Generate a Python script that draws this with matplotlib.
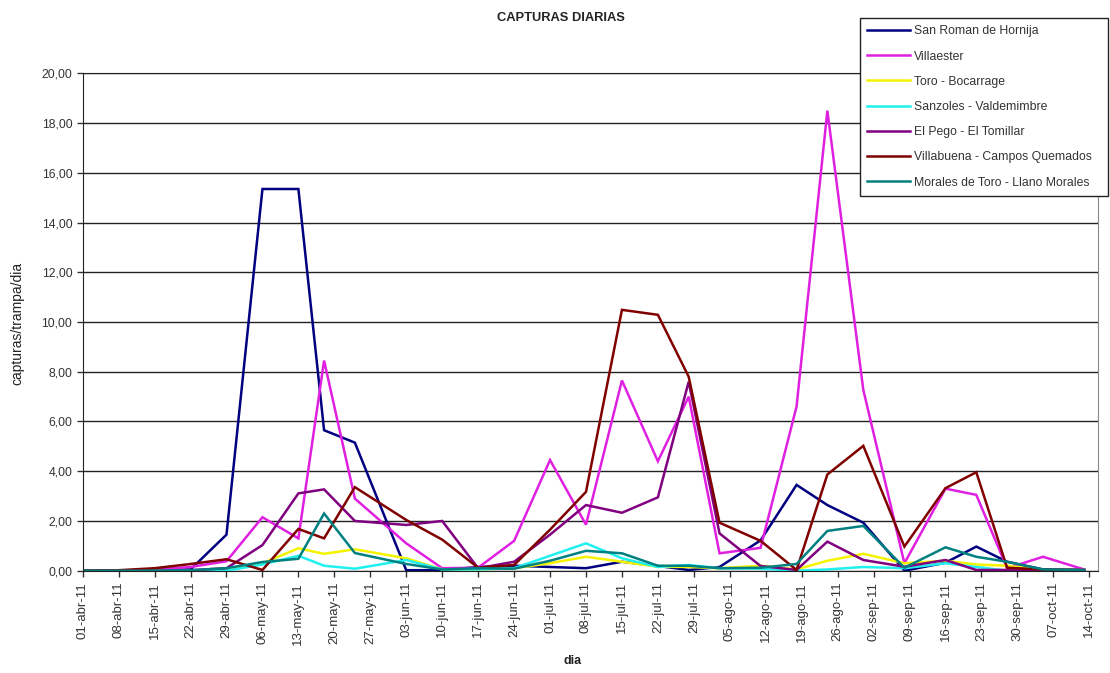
import matplotlib
matplotlib.use("Agg")
import matplotlib.pyplot as plt
import matplotlib.dates as mdates
from matplotlib.legend_handler import HandlerLine2D
import pandas as pd

# sampling dates (read off the picture, not all exactly weekly)
sample_dates = ["2011-04-01", "2011-04-08", "2011-04-15", "2011-04-22", "2011-04-29",
                "2011-05-06", "2011-05-13", "2011-05-18", "2011-05-24", "2011-06-03",
                "2011-06-10", "2011-06-17", "2011-06-24", "2011-07-01", "2011-07-08",
                "2011-07-15", "2011-07-22", "2011-07-28", "2011-08-03", "2011-08-11",
                "2011-08-18", "2011-08-24", "2011-08-31", "2011-09-08", "2011-09-16",
                "2011-09-22", "2011-09-28", "2011-10-05", "2011-10-13"]

san_roman = [0, 0, 0.03, 0.05, 1.45, 15.35, 15.35, 5.65, 5.15, 0.02,
             0.02, 0.15, 0.2, 0.15, 0.1, 0.36, 0.19, 0.03, 0.15, 1.22,
             3.45, 2.64, 1.93, 0.0, 0.32, 0.97, 0.36, 0.05, 0.03]
villaester = [0, 0, 0.05, 0.15, 0.38, 2.15, 1.3, 8.45, 2.9, 1.1,
              0.1, 0.12, 1.2, 4.45, 1.85, 7.65, 4.4, 7.0, 0.7, 0.92,
              6.6, 18.5, 7.27, 0.3, 3.3, 3.05, 0.1, 0.56, 0.05]
toro = [0, 0, 0, 0, 0.05, 0.3, 0.9, 0.68, 0.86, 0.5,
        0.05, 0.05, 0.1, 0.3, 0.56, 0.36, 0.16, 0.15, 0.1, 0.2,
        0.05, 0.4, 0.68, 0.3, 0.4, 0.25, 0.2, 0.03, 0.02]
sanzoles = [0, 0, 0, 0, 0, 0.25, 0.6, 0.2, 0.08, 0.43,
            0.05, 0.05, 0.1, 0.6, 1.1, 0.5, 0.15, 0.23, 0.1, 0.08,
            0.0, 0.05, 0.15, 0.1, 0.3, 0.15, 0.0, 0.0, 0.0]
el_pego = [0, 0, 0, 0.02, 0.1, 1.03, 3.11, 3.27, 2.0, 1.84,
           2.0, 0.1, 0.36, 1.45, 2.64, 2.33, 2.95, 7.6, 1.5, 0.19,
           0.03, 1.17, 0.43, 0.16, 0.43, 0.03, 0.03, 0.02, 0.02]
villabuena = [0, 0.02, 0.1, 0.27, 0.46, 0.03, 1.68, 1.3, 3.36, 2.04,
              1.25, 0.12, 0.23, 1.65, 3.17, 10.49, 10.29, 7.8, 1.93, 1.2,
              0.03, 3.87, 5.02, 0.97, 3.32, 3.96, 0.12, 0.05, 0.03]
morales = [0, 0, 0, 0.02, 0.1, 0.35, 0.48, 2.3, 0.71, 0.27,
           0.05, 0.1, 0.08, 0.4, 0.8, 0.7, 0.2, 0.2, 0.1, 0.12,
           0.27, 1.6, 1.8, 0.12, 0.94, 0.56, 0.36, 0.05, 0.03]

names = ["San Roman de Hornija", "Villaester", "Toro - Bocarrage",
         "Sanzoles - Valdemimbre", "El Pego - El Tomillar",
         "Villabuena - Campos Quemados", "Morales de Toro - Llano Morales"]
colors = ["#000080", "#e020e0", "#f4f400", "#20f0f0", "#800080", "#800000", "#008080"]

tick_labels = ["01-abr-11", "08-abr-11", "15-abr-11", "22-abr-11", "29-abr-11",
               "06-may-11", "13-may-11", "20-may-11", "27-may-11", "03-jun-11",
               "10-jun-11", "17-jun-11", "24-jun-11", "01-jul-11", "08-jul-11",
               "15-jul-11", "22-jul-11", "29-jul-11", "05-ago-11", "12-ago-11",
               "19-ago-11", "26-ago-11", "02-sep-11", "09-sep-11", "16-sep-11",
               "23-sep-11", "30-sep-11", "07-oct-11", "14-oct-11"]


class IndentHandler(HandlerLine2D):
    # legend line starts a bit in from the frame, like the Excel legend
    def create_artists(self, legend, orig_handle, xdescent, ydescent, width, height, fontsize, trans):
        arts = super().create_artists(legend, orig_handle, xdescent, ydescent, width, height, fontsize, trans)
        for a in arts:
            xd = a.get_xdata()
            if len(xd) == 2:
                a.set_xdata([xd[0] + 0.25 * width, xd[1]])
        return arts


plt.rcParams['font.family'] = ['Liberation Sans', 'DejaVu Sans']

x = pd.to_datetime(sample_dates)
ticks = pd.date_range("2011-04-01", periods=len(tick_labels), freq="7D")

fig = plt.figure(figsize=(11.1, 6.73), dpi=100)
ax = fig.add_axes([0.0745, 0.152, 0.9147, 0.739])

series = [san_roman, villaester, toro, sanzoles, el_pego, villabuena, morales]
for s, n, c in zip(series, names, colors):
    ax.plot(x, s, color=c, lw=1.8, label=n, solid_joinstyle='miter')

ax.set_ylim(0, 20)
ax.set_yticks(range(0, 21, 2))
ax.set_yticklabels([("%.2f" % v).replace(".", ",") for v in range(0, 21, 2)], fontsize=8.7, color="#333333")
start = mdates.date2num(pd.Timestamp("2011-04-01"))
ax.set_xlim(start, start + 197.7)
ax.set_xticks(ticks)
ax.set_xticklabels(tick_labels, rotation=90, fontsize=9.5, color="#333333")
ax.tick_params(direction='out', length=4, width=1, color="#333333")
ax.tick_params(axis='x', pad=4)

ax.yaxis.grid(True, color="#222222", lw=1)
ax.set_axisbelow(True)
ax.spines['top'].set_color("#222222")
ax.spines['right'].set_color("#888888")
ax.spines['left'].set_color("#222222")
ax.spines['bottom'].set_color("#222222")

fig.text(0.505, 0.973, "CAPTURAS DIARIAS", ha='center', va='center', fontsize=9.3, fontweight='bold', color="#222222")
fig.text(0.016, 0.52, "capturas/trampa/dia", rotation=90, ha='center', va='center', fontsize=10, color="#222222")
fig.text(0.516, 0.018, "dia", ha='center', va='center', fontsize=9, fontweight='bold', color="#222222")

leg = fig.legend(loc='upper left', bbox_to_anchor=(860 / 1110, 1 - 196 / 673, 248 / 1110, 178 / 673),
                 mode='expand', fontsize=8.8,
                 frameon=True, fancybox=False, edgecolor="#222222", framealpha=1,
                 handlelength=3.5, handletextpad=0.3, labelspacing=1.08, borderpad=0.6,
                 borderaxespad=0, handler_map={matplotlib.lines.Line2D: IndentHandler()})
leg.get_frame().set_linewidth(1)
for t in leg.get_texts():
    t.set_color("#333333")

fig.savefig("out.png", dpi=100)
